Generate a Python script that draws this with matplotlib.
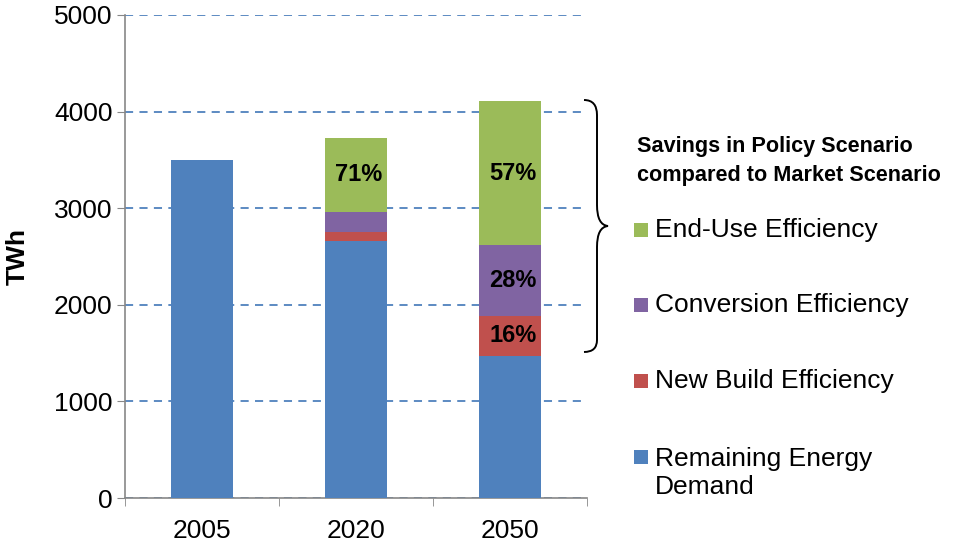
import matplotlib
matplotlib.use("Agg")
import matplotlib.pyplot as plt
from matplotlib.patches import Rectangle, PathPatch
from matplotlib.path import Path
import matplotlib.transforms as mtransforms
import numpy as np

plt.rcParams['font.family'] = ['Liberation Sans', 'DejaVu Sans']

# data (TWh)
years = ['2005', '2020', '2050']
remaining = [3500, 2665, 1475]
new_build = [0, 85, 405]
conversion = [0, 215, 735]
end_use = [0, 765, 1495]

series_names = ['Remaining Energy\nDemand', 'New Build Efficiency',
                'Conversion Efficiency', 'End-Use Efficiency']
series_colors = ['#4F81BD', '#C0504D', '#8064A2', '#9BBB59']

# share labels written inside the savings segments
pct_new_build = ['', '', '16%']
pct_conversion = ['', '', '28%']
pct_end_use = ['', '71%', '57%']

legend_title = 'Savings in Policy Scenario\ncompared to Market Scenario'

W, H = 973, 545
fig = plt.figure(figsize=(W / 100, H / 100), dpi=100)
ax = fig.add_axes([125 / W, 1 - 498 / H, (587 - 125) / W, (498 - 15) / H])

x = np.arange(len(years))
series = [remaining, new_build, conversion, end_use]
labels = [None, pct_new_build, pct_conversion, pct_end_use]
bottom = np.zeros(len(years))
for vals, col, lab in zip(series, series_colors, labels):
    vals = np.array(vals, dtype=float)
    ax.bar(x, vals, width=0.4, bottom=bottom, color=col, zorder=3)
    if lab is not None:
        for xi, b, v, t in zip(x, bottom, vals, lab):
            if t:
                ax.text(xi + 0.02, b + v / 2, t, ha='center', va='center',
                        fontsize=17, fontweight='bold', zorder=4)
    bottom += vals

ax.set_xlim(-0.5, 2.5)
ax.set_ylim(0, 5000)
ax.set_yticks(np.arange(0, 5001, 1000))
ax.tick_params(axis='y', labelsize=19, length=6, color='#878787', pad=3)
ax.set_xticks(x)
ax.set_xticklabels(years)
ax.set_xticks(np.arange(-0.5, 2.6, 1.0), minor=True)
ax.tick_params(axis='x', which='major', length=0, labelsize=19, pad=15)
ax.tick_params(axis='x', which='minor', length=6, color='#878787')
for s in ['top', 'right']:
    ax.spines[s].set_visible(False)
for s in ['left', 'bottom']:
    ax.spines[s].set_color('#878787')
    ax.spines[s].set_linewidth(1.2)
ax.yaxis.grid(True, linestyle=(0, (4.5, 3.5)), color='#4F81BD', linewidth=1.3, zorder=0)
ax.set_ylabel('TWh', fontsize=19, fontweight='bold')
ax.yaxis.set_label_coords((30 - 125) / 462, 0.5)

# pixel-space transform (origin top-left)
px = mtransforms.Affine2D().scale(1 / W, -1 / H).translate(0, 1) + fig.transFigure

# brace
verts = [(584, 100), (597, 100), (597, 115), (597, 125),
         (597, 205), (597, 225), (608, 226),
         (597, 227), (597, 247), (597, 330),
         (597, 340), (597, 352), (584, 352)]
codes = [Path.MOVETO, Path.CURVE3, Path.CURVE3, Path.LINETO,
         Path.LINETO, Path.CURVE3, Path.CURVE3,
         Path.CURVE3, Path.CURVE3, Path.LINETO,
         Path.LINETO, Path.CURVE3, Path.CURVE3]
fig.patches.append(PathPatch(Path(verts, codes), facecolor='none', edgecolor='black',
                             linewidth=1.4, transform=px))

# legend (manual, reverse order)
fig.text(637 / W, 1 - 161 / H, legend_title, fontsize=15.6, fontweight='bold',
         ha='left', va='center', linespacing=1.45)
item_y = [230, 305, 381, 457]
for name, col, yy in zip(series_names[::-1], series_colors[::-1], item_y):
    fig.patches.append(Rectangle((634, yy + 7), 14, -14, facecolor=col,
                                 edgecolor='none', transform=px))
    if '\n' in name:
        fig.text(655 / W, 1 - (yy - 10) / H, name, fontsize=19, ha='left', va='top',
                 linespacing=1.2)
    else:
        fig.text(655 / W, 1 - yy / H, name, fontsize=19, ha='left', va='center')

fig.savefig('out.png', dpi=100)
